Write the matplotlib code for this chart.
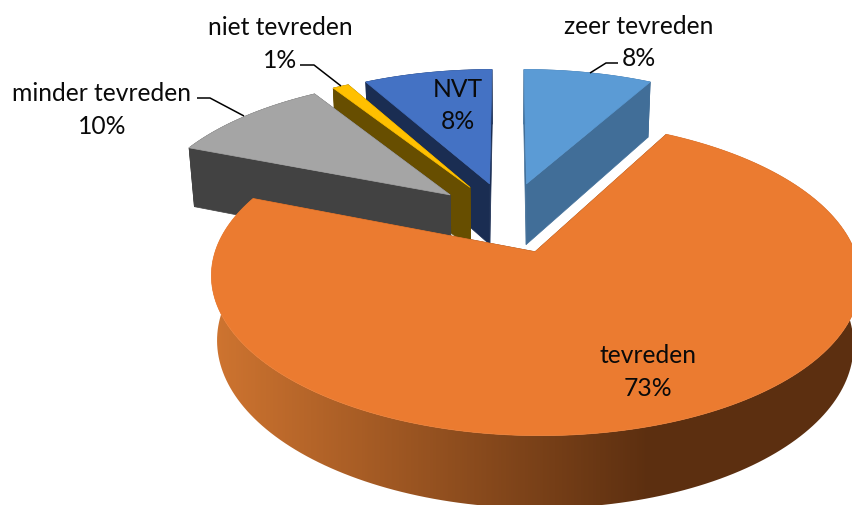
import numpy as np
import matplotlib
matplotlib.use("Agg")
import matplotlib.pyplot as plt
from matplotlib.colors import LinearSegmentedColormap
from matplotlib.patches import Polygon

categories = ["zeer tevreden", "tevreden", "minder tevreden", "niet tevreden", "NVT"]
values = [8, 73, 10, 1, 8]
top_colors = ["#5B9BD5", "#EB7B30", "#A5A5A5", "#FFC000", "#4472C4"]
side_colors = ["#416E98", "#6E3A16", "#424242", "#674E00", "#1A2D52"]
label_xy = [(638.5, 42.5), (648, 372), (102, 110), (280, 44), (458, 105.5)]
leaders = {
    0: [(590, 73), (606, 63), (618, 63)],
    2: [(197, 98), (210, 98), (244, 116)],
    3: [(300, 65), (314, 65), (341, 86)],
}

W, H = 853, 505
CX, CY = 508, 217
F, D = 1760.0, 5.6
X_SCALE = 0.98
PHI = np.radians(26.9)
HEIGHT = 0.227
EXPLODE = 0.25


def project(u, v, z):
    y = v * np.sin(PHI) + z * np.cos(PHI)
    d = D + v * np.cos(PHI) - z * np.sin(PHI)
    return np.column_stack([CX + X_SCALE * F * u / d, CY - F * y / d])


fig = plt.figure(figsize=(W / 100, H / 100), dpi=100)
ax = fig.add_axes([0, 0, 1, 1])
ax.set_axis_off()
plt.rcParams["font.family"] = ["Lato", "DejaVu Sans"]

edges = np.cumsum([0] + values) / sum(values) * 2 * np.pi
orange_cmap = LinearSegmentedColormap.from_list("side", ["#CE7430", "#5C2F10"])


def draw_slice(i, z):
    t0, t1 = edges[i], edges[i + 1]
    mid = (t0 + t1) / 2
    ou, ov = EXPLODE * np.sin(mid), EXPLODE * np.cos(mid)
    th = np.linspace(t0, t1, 200)
    au, av = ou + np.sin(th), ov + np.cos(th)
    top_arc = project(au, av, 0 * th)
    bot_arc = project(au, av, 0 * th - HEIGHT)
    tip_top = project(np.array([ou]), np.array([ov]), np.array([0.0]))
    tip_bot = project(np.array([ou]), np.array([ov]), np.array([-HEIGHT]))
    walls = [
        np.vstack([tip_top, top_arc[:1], bot_arc[:1], tip_bot]),
        np.vstack([top_arc[-1:], tip_top, tip_bot, bot_arc[-1:]]),
    ]
    for w in walls:
        ax.add_patch(Polygon(w, closed=True, fc=side_colors[i], ec=side_colors[i], lw=0.5, zorder=z))
    outer = np.vstack([top_arc, bot_arc[::-1]])
    if i == 1:
        clip = Polygon(outer, closed=True, fc="none", ec="none", zorder=z)
        ax.add_patch(clip)
        grad = np.clip((np.arange(W) - 215) / (650 - 215), 0, 1)[None, :]
        im = ax.imshow(grad, cmap=orange_cmap, extent=(0, W, H, 0), aspect="auto", zorder=z + 0.2)
        im.set_clip_path(clip)
    else:
        ax.add_patch(Polygon(outer, closed=True, fc=side_colors[i], ec=side_colors[i], lw=0.5, zorder=z))
    ax.add_patch(Polygon(np.vstack([tip_top, top_arc]), closed=True, fc=top_colors[i],
                         ec=top_colors[i], lw=0.5, zorder=z + 0.5))


for n, i in enumerate([0, 4, 3, 2, 1]):
    draw_slice(i, n + 1)

ax.set_xlim(0, W)
ax.set_ylim(H, 0)

for i, (x, y) in enumerate(label_xy):
    ax.text(x, y, f"{categories[i]}\n{values[i]}%", ha="center", va="center",
            fontsize=17.7, color="#0A0A0A", linespacing=1.5, zorder=20)
for i, pts in leaders.items():
    xs, ys = zip(*pts)
    ax.plot(xs, ys, color="black", lw=1.1, zorder=21, solid_capstyle="butt")

fig.savefig("out.png", dpi=100)
